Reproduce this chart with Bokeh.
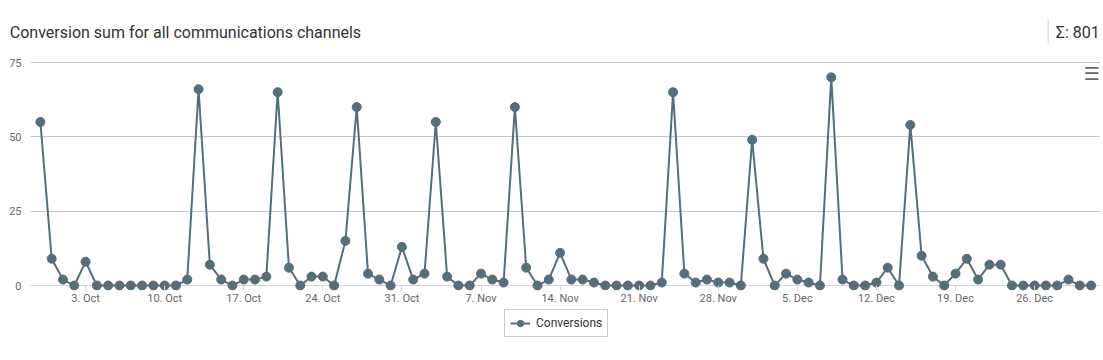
import pandas as pd
from bokeh.plotting import figure
from bokeh.layouts import column
from bokeh.models import (Range1d, FixedTicker, DatetimeTickFormatter, Span, Label,
                          Legend, LegendItem, ColumnDataSource)
from bokeh.embed import file_html
from bokeh.resources import INLINE

# ---------------- data ----------------
title_text = "Conversion sum for all communications channels"
series_name = "Conversions"
first_day = "2016-09-29"
last_day = "2016-12-31"
conversions = [
    55, 9, 2, 0, 8, 0, 0, 0, 0, 0, 0, 0, 0, 2, 66, 7, 2, 0, 2, 2, 3, 65, 6, 0, 3, 3, 0, 15, 60, 4,
    2, 0, 13, 2, 4, 55, 3, 0, 0, 4, 2, 1, 60, 6, 0, 2, 11, 2, 2, 1, 0, 0, 0, 0, 0, 1, 65, 4, 1, 2, 1, 1,
    0, 49, 9, 0, 4, 2, 1, 0, 70, 2, 0, 0, 1, 6, 0, 54, 10, 3, 0, 4, 9, 2, 7, 7, 0, 0, 0, 0, 0, 2, 0, 0,
]
x_tick_dates = ["2016-10-03", "2016-10-10", "2016-10-17", "2016-10-24", "2016-10-31",
                "2016-11-07", "2016-11-14", "2016-11-21", "2016-11-28", "2016-12-05",
                "2016-12-12", "2016-12-19", "2016-12-26"]
y_ticks = [0, 25, 50, 75]

dates = pd.date_range(first_day, last_day, freq="D")
src = ColumnDataSource(dict(x=dates, y=conversions))

# ---------------- layout constants ----------------
W = 1100
LEFT = 30
FRAME_W = W - LEFT
HEAD_H = 58
PLOT_PX = 224        # pixels between value 0 and value 75
PAD_TOP, PAD_BOT = 4, 5
FRAME_H = PLOT_PX + PAD_TOP + PAD_BOT
MAIN_BOTTOM = 16
MAIN_H = FRAME_H + MAIN_BOTTOM
FOOT_H = 40

u = (y_ticks[-1] - y_ticks[0]) / PLOT_PX
Y_LO, Y_HI = y_ticks[0] - PAD_BOT * u, y_ticks[-1] + PAD_TOP * u

x_start = dates[0] - pd.Timedelta(hours=21)
x_end = dates[-1] + pd.Timedelta(hours=20)
xs_ms = x_start.value / 1e6
xe_ms = x_end.value / 1e6
ms_per_px = (xe_ms - xs_ms) / FRAME_W

LINE_COL = "#546E7A"
FONT = "Roboto"
TEXT_COL = "#333333"
HEAD_BASE = 32.0


def strip(h, xr, yr):
    fig = figure(width=W, height=h, x_range=xr, y_range=yr,
                 x_axis_location=None, y_axis_location=None,
                 output_backend="svg", toolbar_location=None, title=None,
                 min_border_left=0, min_border_right=0, min_border_top=0, min_border_bottom=0)
    fig.grid.visible = False
    fig.outline_line_color = None
    try:
        fig.frame_align = False
    except Exception:
        pass
    return fig


# ---------------- header ----------------
head = strip(HEAD_H, Range1d(0, W), Range1d(HEAD_H, 0))   # px coordinates, y downward
head.add_layout(Label(x=9.3, y=HEAD_BASE, text=title_text, text_font=FONT,
                      text_font_size="16px", text_color=TEXT_COL, text_align="left",
                      text_baseline="alphabetic"))
head.add_layout(Label(x=1099.3, y=HEAD_BASE, text=f"Σ: {sum(conversions)}", text_font=FONT,
                      text_font_size="16px", text_color=TEXT_COL, text_align="right",
                      text_baseline="alphabetic"))
head.segment(x0=[1047.7], y0=[19], x1=[1047.7], y1=[42.7],
             line_color="#d6d6d6", line_width=1)

# ---------------- main plot ----------------
p = figure(width=W, height=MAIN_H, x_axis_type="datetime",
           x_range=Range1d(x_start, x_end), y_range=Range1d(Y_LO, Y_HI),
           output_backend="svg", toolbar_location=None, title=None,
           min_border_left=LEFT, min_border_right=0, min_border_top=0,
           min_border_bottom=MAIN_BOTTOM)
p.outline_line_color = None
p.background_fill_color = "white"
p.border_fill_color = "white"

p.xaxis.ticker = FixedTicker(ticks=[pd.Timestamp(d).value / 1e6 for d in x_tick_dates])
p.xaxis.formatter = DatetimeTickFormatter(days="%-d. %b", months="%-d. %b")
p.xaxis.axis_line_color = None
p.xaxis.major_tick_in = PAD_BOT
p.xaxis.major_tick_out = 0
p.xaxis.minor_tick_in = 0
p.xaxis.minor_tick_out = 0
p.xaxis.major_tick_line_color = "#ccd6eb"
p.xaxis.minor_tick_line_color = None
p.xaxis.major_label_standoff = 1
p.xaxis.major_label_text_font = FONT
p.xaxis.major_label_text_font_size = "11px"
p.xaxis.major_label_text_color = "#666666"

p.yaxis.ticker = FixedTicker(ticks=y_ticks)
p.yaxis.axis_line_color = None
p.yaxis.major_tick_in = 0
p.yaxis.major_tick_out = 0
p.yaxis.minor_tick_in = 0
p.yaxis.minor_tick_out = 0
p.yaxis.major_tick_line_color = None
p.yaxis.minor_tick_line_color = None
p.yaxis.major_label_standoff = 9
p.yaxis.major_label_text_font = FONT
p.yaxis.major_label_text_font_size = "11px"
p.yaxis.major_label_text_color = "#666666"

p.xgrid.grid_line_color = None
p.ygrid.ticker = FixedTicker(ticks=[t for t in y_ticks if t > 0])
p.ygrid.grid_line_color = "#c6c6c6"
p.ygrid.grid_line_width = 1

p.add_layout(Span(location=0, dimension="width", line_color="#ccd6eb", line_width=1,
                  level="underlay"))

lr = p.line("x", "y", source=src, line_color=LINE_COL, line_width=2)
sr = p.scatter("x", "y", source=src, size=9, fill_color=LINE_COL, line_color=LINE_COL)

# menu icon (top right, inside plot area)
p.add_layout(Label(x=xs_ms + 1061 * ms_per_px, y=y_ticks[-1] - 11.5 * u, text="☰",
                   text_font="DejaVu Sans", text_font_size="18px", text_color="#666666",
                   text_align="center", text_baseline="middle"))

# ---------------- footer with legend ----------------
foot = strip(FOOT_H, Range1d(0, 1), Range1d(0, 1))
proxy = ColumnDataSource(dict(x=[-5.0], y=[-5.0]))   # off-canvas proxy for legend symbol
flr = foot.line("x", "y", source=proxy, line_color=LINE_COL, line_width=2)
fsr = foot.scatter("x", "y", source=proxy, size=9, fill_color=LINE_COL, line_color=LINE_COL)
legend = Legend(items=[LegendItem(label=series_name, renderers=[flr, fsr])],
                location=(504, 10), orientation="horizontal",
                label_text_font=FONT, label_text_font_size="12px", label_text_color=TEXT_COL,
                border_line_color="#999999", border_line_width=1,
                padding=5, margin=0, spacing=0, glyph_width=20, glyph_height=16,
                label_height=16, label_standoff=6, background_fill_alpha=1)
foot.add_layout(legend, "center")

layout = column(head, p, foot, spacing=0)
open("out.html", "w").write(file_html(layout, INLINE))
